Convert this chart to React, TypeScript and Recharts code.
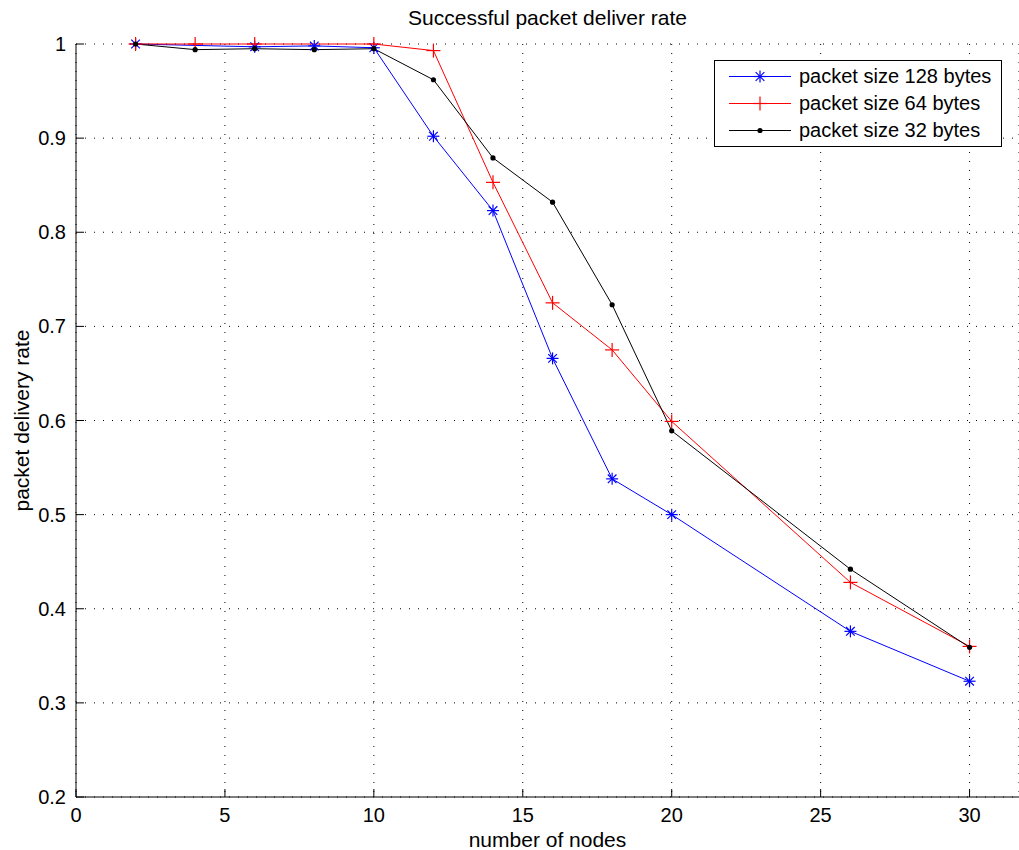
// Packet delivery rate vs number of nodes, three packet sizes.
// MATLAB-style plot: inward ticks, dotted grid, boxed legend top-right.
import { LineChart, Line, XAxis, YAxis, CartesianGrid } from 'recharts';

const nodes = [2, 4, 6, 8, 10, 12, 14, 16, 18, 20, 26, 30];
// null = no marker visible at that node in the source figure
const rate128 = [1.0, null, 0.997, 0.998, 0.996, 0.902, 0.823, 0.666, 0.538, 0.5, 0.376, 0.323];
const rate64 = [1.0, 1.0, 1.0, null, 1.0, 0.993, 0.853, 0.725, 0.675, 0.599, 0.428, 0.36];
const rate32 = [1.0, 0.994, 0.995, 0.994, 0.995, 0.962, 0.879, 0.832, 0.723, 0.589, 0.442, 0.359];

const xTicks = [0, 5, 10, 15, 20, 25, 30];
const yTicks = [0.2, 0.3, 0.4, 0.5, 0.6, 0.7, 0.8, 0.9, 1];

const data = nodes.map((n, i) => ({
  nodes: n,
  p128: rate128[i],
  p64: rate64[i],
  p32: rate32[i],
}));

const FONT = '"Liberation Sans", Arial, Helvetica, sans-serif';
const TICK = { fill: '#000', fontSize: 20, fontFamily: FONT };

function Star({ cx, cy, color, r = 6 }: { cx: number; cy: number; color: string; r?: number }) {
  const d = r * 0.72;
  return (
    <g stroke={color} strokeWidth={1.2}>
      <line x1={cx - r} y1={cy} x2={cx + r} y2={cy} />
      <line x1={cx} y1={cy - r} x2={cx} y2={cy + r} />
      <line x1={cx - d} y1={cy - d} x2={cx + d} y2={cy + d} />
      <line x1={cx - d} y1={cy + d} x2={cx + d} y2={cy - d} />
    </g>
  );
}

function Plus({ cx, cy, color, r = 7 }: { cx: number; cy: number; color: string; r?: number }) {
  return (
    <g stroke={color} strokeWidth={1.2}>
      <line x1={cx - r} y1={cy} x2={cx + r} y2={cy} />
      <line x1={cx} y1={cy - r} x2={cx} y2={cy + r} />
    </g>
  );
}

function Dot({ cx, cy, color }: { cx: number; cy: number; color: string }) {
  return <circle cx={cx} cy={cy} r={2.6} fill={color} stroke="none" />;
}

const SERIES = [
  { key: 'p128', name: 'packet size 128 bytes', color: '#0000ff', Marker: Star },
  { key: 'p64', name: 'packet size 64 bytes', color: '#ff0000', Marker: Plus },
  { key: 'p32', name: 'packet size 32 bytes', color: '#000000', Marker: Dot },
];

function LegendBox() {
  return (
    <div
      style={{
        position: 'absolute',
        top: 60,
        left: 714,
        border: '1px solid #000',
        background: '#fff',
        width: 288,
        height: 87,
        boxSizing: 'border-box',
        paddingTop: 2,
        fontFamily: FONT,
        fontSize: 20,
        color: '#000',
      }}
    >
      {SERIES.map(({ key, name, color, Marker }) => (
        <div key={key} style={{ display: 'flex', alignItems: 'center', height: 27 }}>
          <svg width={84} height={27} style={{ flex: 'none' }}>
            <line x1={14} y1={13.5} x2={76} y2={13.5} stroke={color} strokeWidth={1} />
            <Marker cx={45} cy={13.5} color={color} />
          </svg>
          <span style={{ lineHeight: '27px' }}>{name}</span>
        </div>
      ))}
    </div>
  );
}

export default function App() {
  return (
    <div style={{ position: 'absolute', left: 0, top: 0, width: 1019, height: 850, background: '#fff' }}>
      <div
        style={{
          position: 'absolute',
          top: 6,
          left: 76,
          width: 943,
          textAlign: 'center',
          fontFamily: FONT,
          fontSize: 21,
          lineHeight: '24px',
          color: '#000',
        }}
      >
        Successful packet deliver rate
      </div>
      <LineChart width={1019} height={850} data={data} margin={{ top: 44, right: 0, bottom: 0, left: 0 }}>
        <CartesianGrid stroke="#000" strokeDasharray="1 8" vertical horizontal />
        <XAxis
          dataKey="nodes"
          type="number"
          domain={[0, 31.66]}
          ticks={xTicks}
          allowDataOverflow
          height={53}
          stroke="#000"
          tickSize={-8}
          tickMargin={19}
          tick={TICK}
          label={{
            value: 'number of nodes',
            position: 'insideBottom',
            offset: 3,
            style: { fill: '#000', fontSize: 21, fontFamily: FONT },
          }}
        />
        <XAxis
          xAxisId="top"
          dataKey="nodes"
          type="number"
          orientation="top"
          domain={[0, 31.66]}
          ticks={xTicks}
          allowDataOverflow
          height={0}
          stroke="#000"
          tickSize={-8}
          tick={false}
        />
        <YAxis
          type="number"
          domain={[0.2, 1]}
          ticks={yTicks}
          width={76}
          stroke="#000"
          tickSize={-8}
          tickMargin={18}
          tick={TICK}
          tickFormatter={(v: number) => String(v)}
          label={(p: any) => {
            const vb = p.viewBox || {};
            const cy = (vb.y ?? 44) + (vb.height ?? 753) / 2;
            return (
              <text
                x={21}
                y={cy}
                transform={`rotate(-90 21 ${cy})`}
                textAnchor="middle"
                dominantBaseline="central"
                fill="#000"
                fontSize={21}
                fontFamily={FONT}
              >
                packet delivery rate
              </text>
            );
          }}
        />
        {SERIES.map(({ key, name, color, Marker }) => (
          <Line
            key={key}
            type="linear"
            dataKey={key}
            name={name}
            stroke={color}
            strokeWidth={1}
            connectNulls
            isAnimationActive={false}
            activeDot={false}
            dot={(p: any) =>
              p.value == null || p.cy == null ? (
                <g key={`${key}-${p.index}`} />
              ) : (
                <Marker key={`${key}-${p.index}`} cx={p.cx} cy={p.cy} color={color} />
              )
            }
          />
        ))}
      </LineChart>
      <LegendBox />
    </div>
  );
}
